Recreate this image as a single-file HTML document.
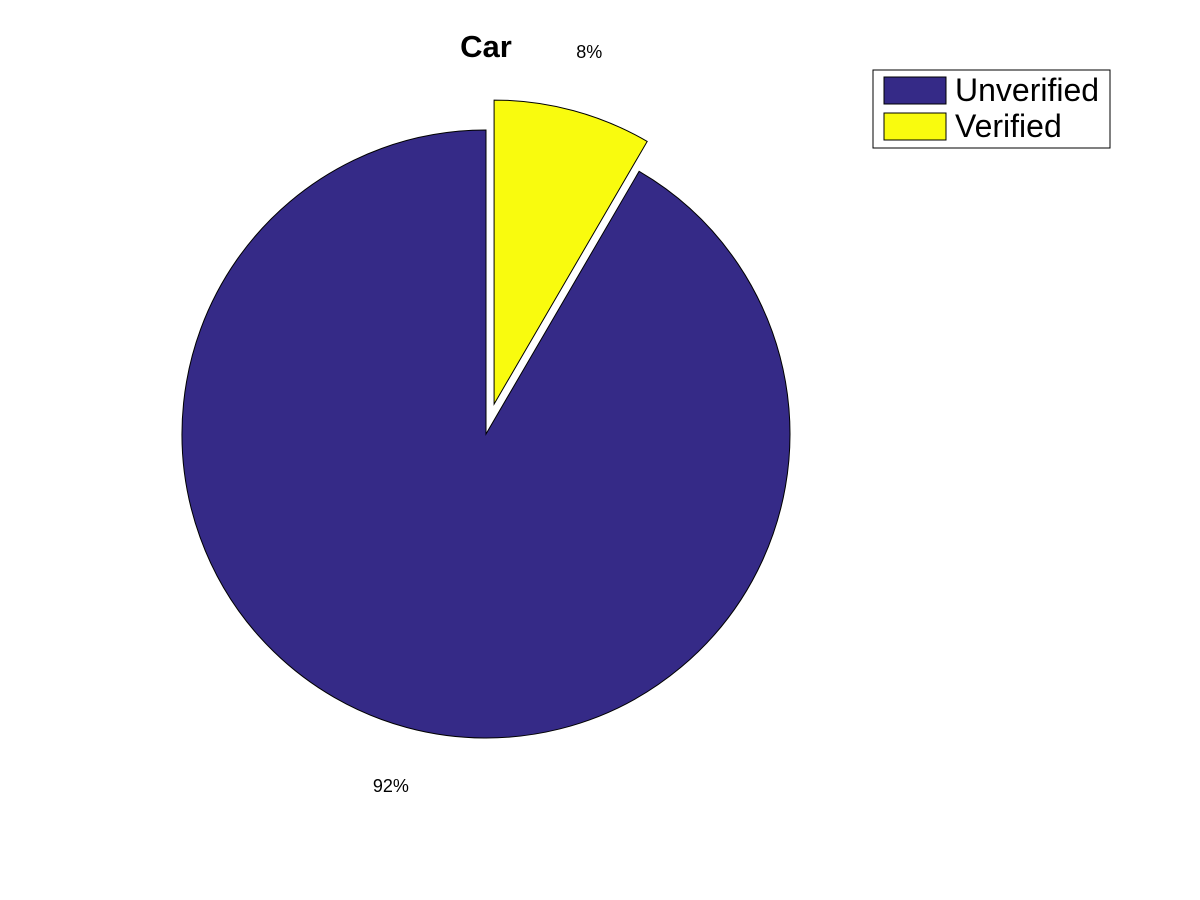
<!DOCTYPE html>
<html><head><meta charset="utf-8"><style>
body{margin:0;background:#fff;}
svg{display:block;font-family:"Liberation Sans",sans-serif;}
</style></head><body>
<svg id="chart" width="1200" height="900">
<rect width="1200" height="900" fill="#fff"/>
<text x="486" y="57" text-anchor="middle" font-size="31" font-weight="bold">Car</text>
<g id="slices"></g>
<g id="labels"></g>
<g>
<rect x="873" y="70" width="237" height="78" fill="#fff" stroke="#000" stroke-width="1"/>
<rect x="884" y="77" width="62" height="27" fill="#352a87" stroke="#000"/>
<text x="955" y="101" font-size="32">Unverified</text>
<rect x="884" y="113" width="62" height="27" fill="#f9fb0e" stroke="#000"/>
<text x="955" y="137" font-size="32">Verified</text>
</g>
</svg>
<script>
const categories = ["Unverified", "Verified"];
const values = [91.6, 8.4];
const exploded = [false, true];
const colors = ["#352a87", "#f9fb0e"];
const cx = 486, cy = 434, r = 304, explodeDist = 31;
const ns = "http://www.w3.org/2000/svg";
const total = values.reduce((a, b) => a + b, 0);
let start = 90;
const gS = document.getElementById("slices"), gL = document.getElementById("labels");
values.forEach((v, i) => {
  const sweep = v / total * 360;
  const mid = (start + sweep / 2) * Math.PI / 180;
  let ox = cx, oy = cy;
  if (exploded[i]) { ox += explodeDist * Math.cos(mid); oy -= explodeDist * Math.sin(mid); }
  const a0 = start * Math.PI / 180, a1 = (start + sweep) * Math.PI / 180;
  const x0 = ox + r * Math.cos(a0), y0 = oy - r * Math.sin(a0);
  const x1 = ox + r * Math.cos(a1), y1 = oy - r * Math.sin(a1);
  const large = sweep > 180 ? 1 : 0;
  const p = document.createElementNS(ns, "path");
  p.setAttribute("d", `M${ox},${oy} L${x0},${y0} A${r},${r} 0 ${large} 0 ${x1},${y1} Z`);
  p.setAttribute("fill", colors[i]);
  p.setAttribute("stroke", "#000");
  p.setAttribute("stroke-width", "1");
  
  
  gS.appendChild(p);
  const t = document.createElementNS(ns, "text");
  t.setAttribute("x", ox + 1.2 * r * Math.cos(mid));
  t.setAttribute("y", oy - 1.2 * r * Math.sin(mid) + 6);
  t.setAttribute("text-anchor", "middle");
  t.setAttribute("font-size", "18");
  t.textContent = Math.round(v / total * 100) + "%";
  
  
  gL.appendChild(t);
  start += sweep;
});
</script>
</body></html>
